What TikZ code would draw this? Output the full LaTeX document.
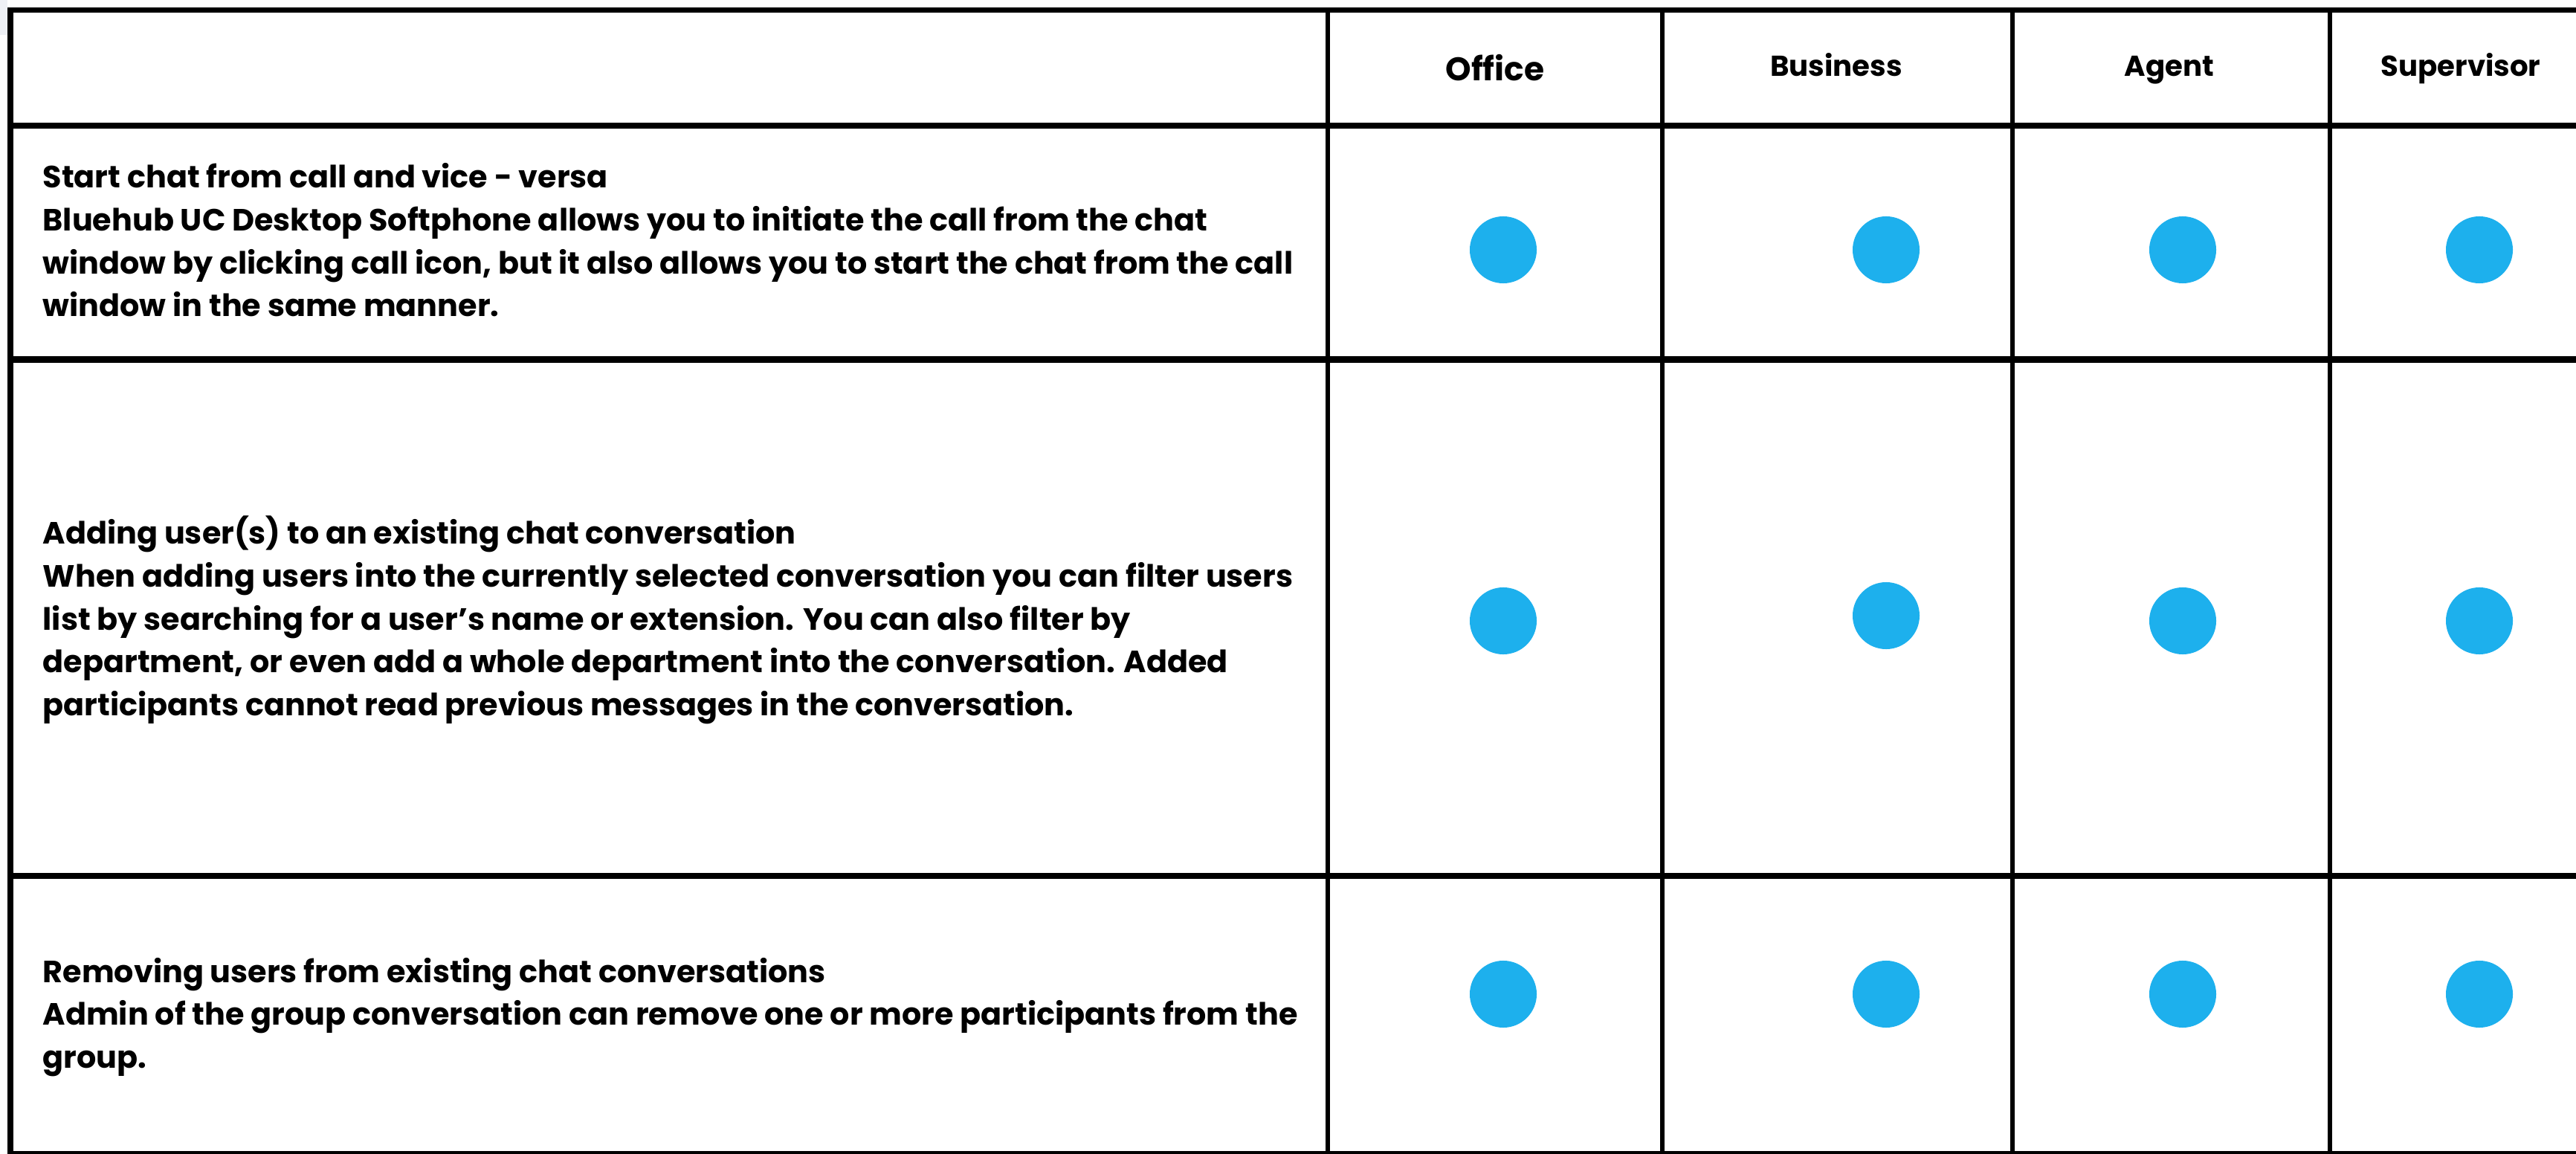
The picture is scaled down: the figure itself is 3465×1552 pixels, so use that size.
\documentclass[tikz,border=0pt]{standalone}
\usepackage{fontspec}
\setmainfont{Poppins}
\definecolor{bluedot}{RGB}{29,176,237}
\definecolor{cornergray}{RGB}{238,240,245}
\tikzset{
  hline/.style={line width=2.28pt, black},
  topline/.style={line width=2.0pt, black},
  vline/.style={line width=1.56pt, black},
  dot/.style={circle, fill=bluedot, draw=none, minimum size=0.9cm, inner sep=0pt},
  hdr/.style={anchor=base, inner sep=0pt, font={\bfseries\fontsize{11.0pt}{13pt}\selectfont}},
  hdrbig/.style={anchor=base, inner sep=0pt, font={\bfseries\fontsize{12.5pt}{14pt}\selectfont}},
  desc/.style={anchor=west, align=left, inner sep=0pt, font={\bfseries\fontsize{11.75pt}{16.4pt}\selectfont}}
}
\begin{document}
\begin{tikzpicture}[x=0.01cm,y=-0.01cm]
\clip (0,0) rectangle (3465,1552);
\fill[white] (0,0) rectangle (3465,1552);
\fill[cornergray] (0,0) rectangle (10,47);
% horizontal rules
\draw[topline] (10,13.5) -- (3465,13.5);
\draw[hline] (10,169) -- (3465,169);
\draw[hline] (10,483.5) -- (3465,483.5);
\draw[hline] (10,1178) -- (3465,1178);
\draw[hline] (10,1552) -- (3465,1552);
% vertical rules
\draw[hline] (14,10) -- (14,1552);
\draw[vline] (1786,10) -- (1786,1552);
\draw[vline] (2236,10) -- (2236,1552);
\draw[vline] (2707,10) -- (2707,1552);
\draw[vline] (3134,10) -- (3134,1552);
% header
\node[hdrbig] (hoffice) at (2011,109) {Office};
\node[hdr] (hbusiness) at (2470,103) {Business};
\node[hdr] (hagent) at (2918,103) {Agent};
\node[hdr] (hsupervisor) at (3310,103) {Supervisor};
% descriptions
\node[desc] (d1) at (57,323) {Start chat from call and vice - versa\\
Bluehub UC Desktop Softphone allows you to initiate the call from the chat\\
window by clicking call icon, but it also allows you to start the chat from the call\\
window in the same manner.};
\node[desc] (d2) at (57,834) {Adding user(s) to an existing chat conversation\\
When adding users into the currently selected conversation you can filter users\\
list by searching for a user’s name or extension. You can also filter by\\
department, or even add a whole department into the conversation. Added\\
participants cannot read previous messages in the conversation.};
\node[desc] (d3) at (57,1368) {Removing users from existing chat conversations\\
Admin of the group conversation can remove one or more participants from the\\
group.};
% dots
\node[dot] (r1c1) at (2022,336) {};
\node[dot] (r1c2) at (2537,336) {};
\node[dot] (r1c3) at (2936,336) {};
\node[dot] (r1c4) at (3335,336) {};
\node[dot] (r2c1) at (2022,835) {};
\node[dot] (r2c2) at (2537,828) {};
\node[dot] (r2c3) at (2936,835) {};
\node[dot] (r2c4) at (3335,835) {};
\node[dot] (r3c1) at (2022,1337) {};
\node[dot] (r3c2) at (2537,1337) {};
\node[dot] (r3c3) at (2936,1337) {};
\node[dot] (r3c4) at (3335,1337) {};
\end{tikzpicture}
\end{document}
